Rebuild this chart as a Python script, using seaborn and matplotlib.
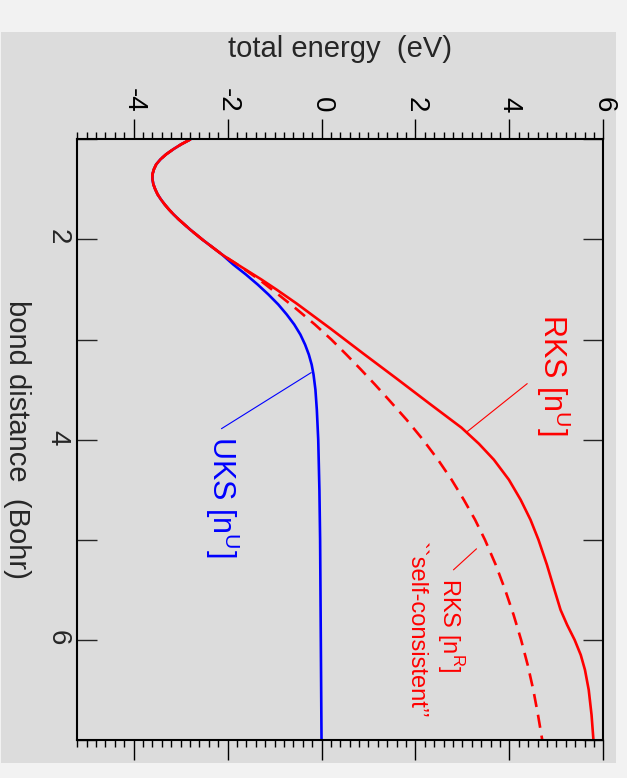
import numpy as np
import matplotlib
matplotlib.use("Agg")
import matplotlib.pyplot as plt
from matplotlib.patches import Rectangle
import seaborn as sns

# bond distance (Bohr) and total energy (eV)
r_common = [1.00, 1.05, 1.10, 1.15, 1.20, 1.25, 1.30, 1.35, 1.40, 1.45, 1.50, 1.55,
            1.60, 1.65, 1.70, 1.75, 1.80, 1.85, 1.90, 1.95, 2.00, 2.05, 2.10, 2.15]
e_common = [-2.79, -2.99, -3.16, -3.31, -3.43, -3.52, -3.57, -3.60, -3.60, -3.58, -3.54, -3.49,
            -3.42, -3.34, -3.25, -3.15, -3.04, -2.92, -2.80, -2.67, -2.54, -2.40, -2.26, -2.12]

r_rks_u = [2.20, 2.30, 2.40, 2.50, 2.64, 2.89, 3.14, 3.39, 3.64, 3.88, 4.04, 4.20, 4.40,
           4.60, 4.80, 5.00, 5.25, 5.50, 5.70, 5.85, 6.00, 6.15, 6.30, 6.50, 6.75, 7.00]
e_rks_u = [-1.96, -1.62, -1.28, -0.96, -0.53, 0.19, 0.89, 1.60, 2.30, 2.98, 3.35, 3.67, 3.99,
           4.24, 4.45, 4.62, 4.80, 4.96, 5.09, 5.23, 5.39, 5.52, 5.61, 5.69, 5.75, 5.79]

r_rks_r = [2.25, 2.40, 2.55, 2.70, 2.85, 3.00, 3.15, 3.30, 3.45, 3.60, 3.80, 4.00, 4.20,
           4.40, 4.60, 4.80, 5.00, 5.25, 5.50, 5.75, 6.00, 6.25, 6.50, 6.75, 7.00]
e_rks_r = [-1.79, -1.33, -0.92, -0.52, -0.14, 0.21, 0.53, 0.84, 1.14, 1.43, 1.81, 2.16, 2.48,
           2.77, 3.03, 3.27, 3.48, 3.71, 3.91, 4.09, 4.25, 4.39, 4.51, 4.61, 4.70]

r_uks_u = [2.25, 2.35, 2.45, 2.55, 2.65, 2.75, 2.85, 2.95, 3.05, 3.15, 3.25, 3.35, 3.50,
           3.70, 4.00, 4.50, 5.00, 6.00, 7.00]
e_uks_u = [-1.88, -1.61, -1.36, -1.13, -0.92, -0.74, -0.58, -0.45, -0.35, -0.27, -0.21, -0.17,
           -0.13, -0.10, -0.07, -0.045, -0.03, -0.015, 0.00]

energy_ticks = [-4, -2, 0, 2, 4, 6]
distance_ticks = [1, 2, 3, 4, 5, 6, 7]
distance_labels = ["", "2", "", "4", "", "6", ""]

sns.set_style("ticks")
plt.rcParams['font.family'] = ['Liberation Sans', 'DejaVu Sans']
plt.rcParams['axes.unicode_minus'] = False

fig = plt.figure(figsize=(6.27, 7.78), dpi=100, facecolor="#f2f2f2")
fig.patches.append(Rectangle((0.0016, 0.0193), 0.981, 0.9396, transform=fig.transFigure,
                             facecolor="#dcdcdc", edgecolor="none", zorder=-5))
ax = fig.add_axes([0.1233, 0.0488, 0.8389, 0.7721])
ax.set_facecolor("#dcdcdc")

RED = "#ff0000"
BLUE = "#0000ff"
lw = 1.9

# the chart is drawn turned a quarter turn: energy runs across, distance runs down
sns.lineplot(x=e_common + e_uks_u, y=r_common + r_uks_u, sort=False, estimator=None,
             color=BLUE, lw=lw, ax=ax)
sns.lineplot(x=e_common + e_rks_r, y=r_common + r_rks_r, sort=False, estimator=None,
             color=RED, lw=lw, linestyle=(0, (5, 3)), ax=ax)
sns.lineplot(x=e_common + e_rks_u, y=r_common + r_rks_u, sort=False, estimator=None,
             color=RED, lw=lw, ax=ax)

# labels with leader lines
ax.plot([4.38, 3.10], [3.44, 3.92], color=RED, lw=0.8)
ax.plot([-0.22, -2.13], [3.33, 3.89], color=BLUE, lw=0.8)
ax.plot([3.30, 2.81], [5.09, 5.30], color=RED, lw=0.8)

ax.text(4.94, 3.35, r"RKS [n$^\mathregular{U}$]", color=RED, fontsize=22,
        rotation=-90, ha="center", va="center")
ax.text(-2.11, 4.57, r"UKS [n$^\mathregular{U}$]", color=BLUE, fontsize=22,
        rotation=-90, ha="center", va="center")
ax.text(2.74, 5.85, r"RKS [n$^\mathregular{R}$]", color=RED, fontsize=17,
        rotation=-90, ha="center", va="center")
ax.text(2.0, 5.90, "``self-consistent\u2019\u2019", color=RED, fontsize=17,
        rotation=-90, ha="center", va="center")

ax.set_xlim(-5.2, 6)
ax.set_ylim(7, 1)

ax.set_xticks(energy_ticks)
ax.set_xticks(np.arange(-5.2, 6.01, 0.2), minor=True)
ax.set_yticks(distance_ticks)
ax.set_yticklabels(distance_labels)

ax.xaxis.tick_top()
ax.xaxis.set_label_position("top")
ax.tick_params(axis="x", which="both", direction="out", top=True, bottom=True,
               labeltop=True, labelbottom=False, colors="black")
ax.tick_params(axis="x", which="major", length=14.5, width=1.0, pad=5, labelsize=20,
               labelrotation=-90)
ax.tick_params(axis="x", which="minor", length=5, width=1.0)
ax.tick_params(axis="y", which="major", direction="in", left=True, right=True,
               length=14.5, width=1.0, pad=5, labelsize=20, labelrotation=-90)
ax.tick_params(axis="y", which="minor", left=False, right=False)

for s in ax.spines.values():
    s.set_visible(True)
    s.set_linewidth(1.5)
    s.set_color("black")

ax.set_xlabel("total energy  (eV)", fontsize=21, labelpad=22)
ax.set_ylabel("bond distance  (Bohr)", fontsize=21, rotation=-90, labelpad=20,
              va="center")

fig.savefig("out.png", dpi=100, facecolor=fig.get_facecolor())
